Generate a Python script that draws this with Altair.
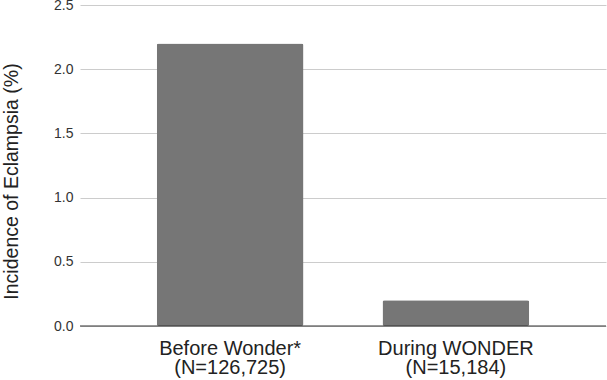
import altair as alt
import pandas as pd

# Eclampsia incidence by period
periods = ["Before Wonder*|(N=126,725)", "During WONDER|(N=15,184)"]
incidence = [2.2, 0.2]

df = pd.DataFrame({"period": periods, "incidence": incidence})

x_enc = alt.X(
    "period:N",
    sort=periods,
    title=None,
    scale=alt.Scale(paddingInner=0.35, paddingOuter=0.34),
    axis=alt.Axis(
        labelExpr="split(datum.label, '|')",
        labelAngle=0,
        labelFontSize=20,
        labelLineHeight=19,
        labelColor="#222222",
        labelPadding=12,
        domain=False,
        ticks=False,
        labelFont="Liberation Sans",
    ),
)

bars = alt.Chart(df).mark_bar(color="#767676", cornerRadius=2).encode(
    x=x_enc,
    y=alt.Y(
        "incidence:Q",
        title="Incidence of Eclampsia (%)",
        scale=alt.Scale(domain=[0, 2.5], nice=False),
        axis=alt.Axis(
            values=[0, 0.5, 1.0, 1.5, 2.0, 2.5],
            format=".1f",
            labelFontSize=14,
            labelColor="#333333",
            labelPadding=7,
            titleFontSize=19.5,
            titleFontWeight="normal",
            titleColor="#222222",
            titlePadding=32,
            titleY=176,
            domain=False,
            ticks=False,
            gridColor="#cccccc",
            labelFont="Liberation Sans",
            titleFont="Liberation Sans",
        ),
    ),
)

baseline = alt.Chart(pd.DataFrame({"y": [0]})).mark_rule(
    color="#333333", strokeWidth=1.2
).encode(y="y:Q")

chart = (
    alt.layer(bars, baseline)
    .properties(
        width=526,
        height=321,
        autosize=alt.AutoSizeParams(type="none"),
        padding={"left": 80, "top": 5, "right": 1, "bottom": 54},
    )
    .configure_view(stroke=None)
)

chart.save("out.html", embed_options={"renderer": "svg", "actions": False})
